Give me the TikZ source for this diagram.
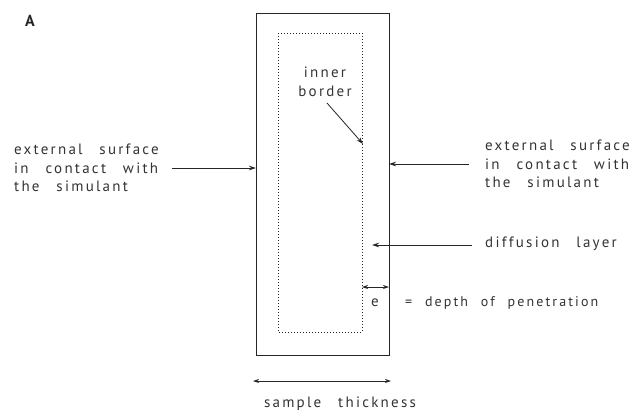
\documentclass[tikz,border=0pt]{standalone}
\usepackage{fontspec}
\setmainfont{PT Sans}[LetterSpace=15,WordSpace=2.7]
\newfontfamily\depthfont{PT Sans}[LetterSpace=15,WordSpace=2.2]
\usetikzlibrary{arrows.meta}
\begin{document}
\begin{tikzpicture}[x=1pt,y=-1pt,
  lbl/.style={inner sep=0pt,align=left,font=\fontsize{15}{18.5}\selectfont,text=black!80},
  arr/.style={-{Stealth[length=7pt,width=4.5pt]},line width=0.8pt,draw=black!85},
  darr/.style={{Stealth[length=6pt,width=4pt]}-{Stealth[length=6pt,width=4pt]},line width=0.8pt,draw=black!85}]
\useasboundingbox (0,0) rectangle (640,413);
% boxes
\draw[line width=1pt,draw=black!85] (256,13) rectangle (389,355);
\draw[dotted,line width=1pt,draw=black!85] (278,33) rectangle (362,332);
\node[text=black!85] (A) at (30,21) {\fontsize{16}{16}\selectfont\bfseries A};
% inner border
\node[lbl,align=center] (ib) at (325,82) {inner\\border};
\coordinate (ibs) at (327,103);
\coordinate (ibe) at (363,144);
\draw[arr] (ibs) -- (ibe);
% left external
\node[lbl,anchor=west] (le) at (14,168) {external surface\\in contact with\\the simulant};
\coordinate (la1) at (172,168);
\coordinate (la2) at (256,168);
\draw[arr] (la1) -- (la2);
% right external
\node[lbl,anchor=west] (re) at (485,164) {external surface\\in contact with\\the simulant};
\coordinate (ra1) at (469,164);
\coordinate (ra2) at (389,164);
\draw[arr] (ra1) -- (ra2);
% diffusion
\node[lbl,anchor=west] (dl) at (485,244) {diffusion layer};
\coordinate (da1) at (472,245);
\coordinate (da2) at (372,245);
\draw[arr] (da1) -- (da2);
% e
\coordinate (e1) at (362,287);
\coordinate (e2) at (389,287);
\draw[darr] (e1) -- (e2);
\node[lbl] (e) at (375,303) {e};
\node[lbl,anchor=west,font=\depthfont\fontsize{14}{18.5}\selectfont] (dp) at (405,303) {= depth of penetration};
% sample thickness
\coordinate (s1) at (253,381);
\coordinate (s2) at (391,381);
\draw[darr] (s1) -- (s2);
\node[lbl] (st) at (340,404) {sample thickness};
\end{tikzpicture}
\end{document}
